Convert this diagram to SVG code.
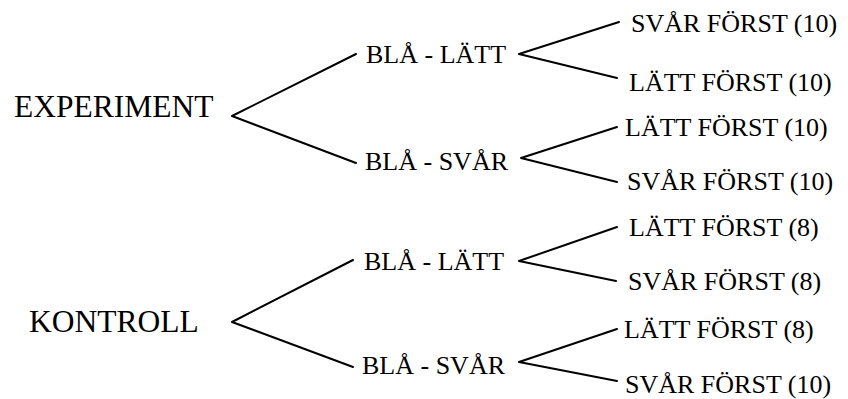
<svg xmlns="http://www.w3.org/2000/svg" width="848" height="399" viewBox="0 0 848 399">
<style>
text { font-family: "Liberation Serif", "Times New Roman", serif; fill: #000; }
.root { font-size: 31.5px; }
.mid, .leaf { font-size: 26px; }
.edge { stroke: #000; stroke-width: 2; fill: none; stroke-linecap: round; stroke-linejoin: round; }
</style>
<rect width="848" height="399" fill="#fff"/>
<g id="connectors">
<polyline class="edge" points="356,54 232,116 356,163"/>
<polyline class="edge" points="353,260 232,322 353,367"/>
<polyline class="edge" points="619,22 519,54 617,78"/>
<polyline class="edge" points="617,127 521,158 617,182"/>
<polyline class="edge" points="617,227 519,261 616,281"/>
<polyline class="edge" points="617,329 519,362 617,381"/>
</g>
<g id="experiment"><text class="root" x="14" y="117">EXPERIMENT</text></g>
<g id="kontroll"><text class="root" x="29" y="332">KONTROLL</text></g>
<g id="exp-bla-latt"><text class="mid" x="366" y="63">BLÅ - LÄTT</text></g>
<g id="exp-bla-svar"><text class="mid" x="365" y="170">BLÅ - SVÅR</text></g>
<g id="kon-bla-latt"><text class="mid" x="364" y="270">BLÅ - LÄTT</text></g>
<g id="kon-bla-svar"><text class="mid" x="362" y="374">BLÅ - SVÅR</text></g>
<g id="leaf1"><text class="leaf" x="631" y="32">SVÅR FÖRST (10)</text></g>
<g id="leaf2"><text class="leaf" x="629" y="91">LÄTT FÖRST (10)</text></g>
<g id="leaf3"><text class="leaf" x="625" y="136">LÄTT FÖRST (10)</text></g>
<g id="leaf4"><text class="leaf" x="627" y="190">SVÅR FÖRST (10)</text></g>
<g id="leaf5"><text class="leaf" x="629" y="236">LÄTT FÖRST (8)</text></g>
<g id="leaf6"><text class="leaf" x="628" y="290">SVÅR FÖRST (8)</text></g>
<g id="leaf7"><text class="leaf" x="624" y="338">LÄTT FÖRST (8)</text></g>
<g id="leaf8"><text class="leaf" x="625" y="393">SVÅR FÖRST (10)</text></g>
</svg>
